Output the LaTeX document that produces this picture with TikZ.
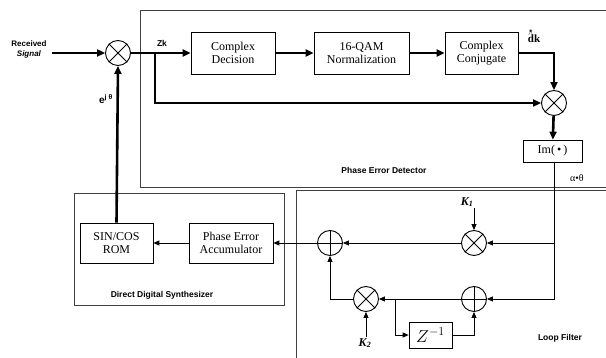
\documentclass[tikz,border=0pt]{standalone}
\usepackage{fontspec}
\setmainfont{Liberation Serif}
\setsansfont{Liberation Sans}
\usetikzlibrary{arrows.meta, positioning}

\begin{document}
\begin{tikzpicture}[
    x=1pt, y=-1pt,
    every node/.style={align=center, inner sep=1pt},
    blk/.style   ={draw, line width=0.7pt, inner sep=0pt,
                   minimum height=42pt,
                   font=\fontsize{12}{13.5}\selectfont},
    mixer/.style ={draw, circle, line width=0.9pt, inner sep=0pt,
                   minimum size=25pt},
    frame/.style ={draw=black!75, line width=0.6pt},
    sig/.style   ={-{Triangle[length=8pt,width=7pt]}, line width=2.6pt},
    lf/.style    ={-{Triangle[length=6pt,width=5pt]}, line width=0.8pt},
    lbl/.style   ={font=\fontsize{8.5}{10}\selectfont\sffamily\bfseries},
    gain/.style  ={font=\fontsize{12}{13}\selectfont\bfseries\itshape},
  ]
  \useasboundingbox (0,0) rectangle (606,358);

  %% --- rows and columns (pixel units) ------------------------------------
  \def\yA{53}      % forward path
  \def\yB{103}     % bypass / detector mixer
  \def\yC{243}     % K1 row, feedback to DDS
  \def\yD{299}     % K2 row
  \def\xIn{118}    % input mixer
  \def\xPd{554}    % detector column
  \def\xKa{474}    % K1 mixer / lower adder
  \def\xAd{330}    % output adder
  \def\xKb{366}    % K2 mixer

  %% --- group frames ------------------------------------------------------
  \draw[frame] (140,10)  rectangle (640,187);   % phase error detector
  \draw[frame] (296,190) rectangle (640,380);   % loop filter
  \draw[frame] (74,193)  rectangle (284,305);   % DDS

  \node[lbl] (tpd)  at (384,170) {Phase Error Detector};
  \node[lbl] (tlf)  at (560,338) {Loop Filter};
  \node[lbl] (tdds) at (162,295) {Direct Digital Synthesizer};

  %% --- forward path ------------------------------------------------------
  \node[lbl, font=\fontsize{8}{10}\selectfont\sffamily\bfseries] (rcv) at (29,49)
        {Received\\\textit{Signal}};
  \node[mixer] (mixin) at (\xIn,\yA) {};
  \node[blk, minimum width=84pt] (cdec) at (233,\yA) {Complex\\Decision};
  \node[blk, minimum width=95pt] (qam)  at (361.5,\yA) {16-QAM\\Normalization};
  \node[blk, minimum width=73pt] (conj) at (481.5,\yA) {Complex\\Conjugate};
  \node[mixer] (mixpd) at (\xPd,\yB) {};
  \node[blk, minimum width=59pt, minimum height=22pt] (imag) at (552.5,151)
        {Im(\,•\,)};

  \node[lbl] (zk) at (162,43) {Zk};
  \node[font=\fontsize{11}{12}\selectfont\bfseries] (dk) at (534,36)
        {\rlap{\raisebox{7pt}{\kern0.3pt\fontsize{7}{7}\selectfont$\wedge$\kern-4.5pt\raisebox{1.5pt}{*}}}dk};
  \node[lbl, font=\fontsize{10}{11}\selectfont\sffamily\bfseries] (ejt) at (106,99)
        {e\textsuperscript{j θ}};
  \node[font=\fontsize{10}{11}\selectfont] (err) at (577,178) {α•θ};

  %% --- DDS ---------------------------------------------------------------
  \node[blk, minimum width=73pt, minimum height=40pt] (rom) at (116.5,\yC) {SIN/COS\\ROM};
  \node[blk, minimum width=84pt, minimum height=40pt] (acc) at (231,\yC) {Phase Error\\Accumulator};

  %% --- loop filter -------------------------------------------------------
  \node[mixer] (mka)  at (\xKa,\yC) {};
  \node[mixer] (addl) at (\xAd,\yC) {};
  \node[mixer] (addb) at (\xKa,\yD) {};
  \node[mixer] (mkb)  at (\xKb,\yD) {};
  \node[blk, minimum width=43pt, minimum height=26pt] (zinv) at (430.5,335)
        {\fontsize{17}{18}\selectfont$Z^{-1}$};
  \node[gain] (ka) at (467,202) {K\textsubscript{1}};
  \node[gain] (kb) at (365,343) {K\textsubscript{2}};

  % crosses and plus signs
  \foreach \m in {mixin, mixpd, mka, mkb}
    \draw[line width=0.9pt] (\m.north east) -- (\m.south west)
                            (\m.north west) -- (\m.south east);
  \foreach \a in {addl, addb}
    \draw[line width=0.9pt] (\a.north) -- (\a.south) (\a.west) -- (\a.east);

  %% --- connectors --------------------------------------------------------
  \coordinate (tap) at (155,\yA);
  \coordinate (tz)  at (395,\yD);

  \draw[sig] (rcv.east |- mixin) ++(4,0) -- (mixin.west);
  \draw[sig] (mixin.east) -- (cdec.west);
  \draw[sig] (tap) |- (mixpd.west);
  \draw[sig] (cdec) -- (qam);
  \draw[sig] (qam) -- (conj);
  \draw[sig] (conj.east) -| (mixpd.north);
  \draw[sig] (mixpd) -- (imag);

  % detector output into the loop filter
  \draw[lf] (imag.south -| mixpd) |- (addb.east);
  \draw[lf] (mixpd |- mka) -- (mka.east);
  \draw[lf] (mka) -- (addl);
  \draw[lf] (ka.south -| mka) -- (mka.north);
  \draw[lf] (addb) -- (mkb);
  \draw[lf] (tz) |- (zinv.west);
  \draw[lf] (zinv.east) -| (addb.south);
  \draw[lf] (kb.north -| mkb) -- (mkb.south);
  \draw[lf] (mkb.west) -| (addl.south);

  % back to the DDS and the input mixer
  \draw[lf] (addl.west) -- (acc.east);
  \draw[lf] (acc) -- (rom);
  \draw[sig] (rom.north) -- (mixin.south);

\end{tikzpicture}
\end{document}
